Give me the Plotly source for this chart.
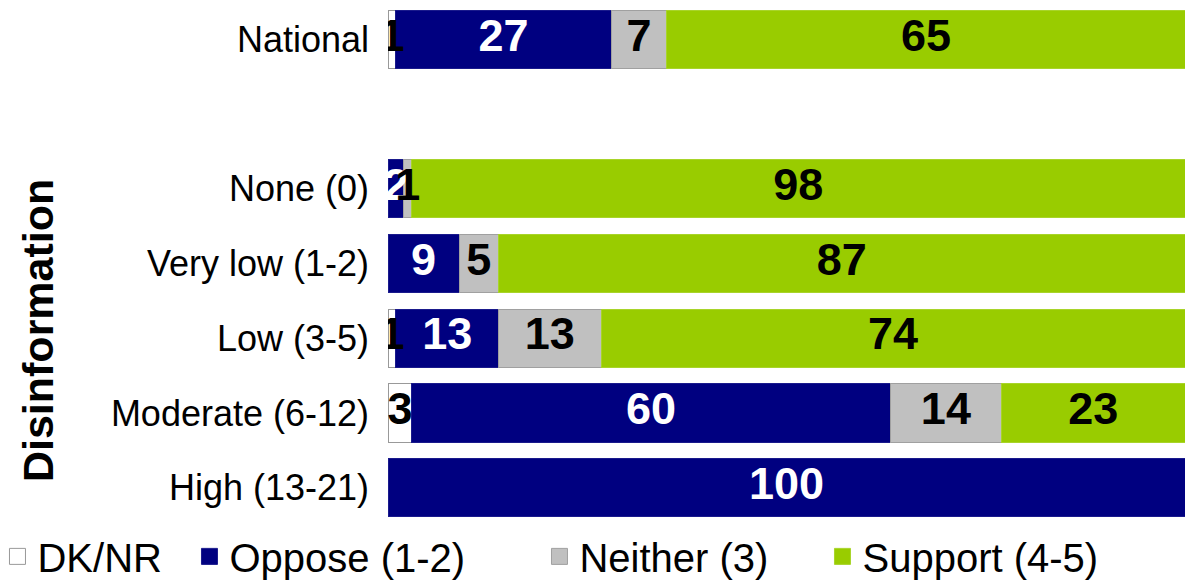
import plotly.graph_objects as go

categories = ["National", " ", "None (0)", "Very low (1-2)", "Low (3-5)",
              "Moderate (6-12)", "High (13-21)"]
dk_nr = [1, None, 0, 0, 1, 3, 0]
oppose = [27, None, 2, 9, 13, 60, 100]
neither = [7, None, 1, 5, 13, 14, 0]
support = [65, None, 98, 87, 74, 23, 0]

series = [
    ("DK/NR", dk_nr, "#FFFFFF", "#999999", "black", 147),
    ("Oppose (1-2)", oppose, "#000080", "#1a1a8c", "white", 305),
    ("Neither (3)", neither, "#C0C0C0", "#A0A0A0", "black", 238),
    ("Support (4-5)", support, "#99CC00", "#A8D42A", "black", 290),
]

FONT = "Liberation Sans, Arial, sans-serif"
fig = go.Figure()

for name, vals, color, line, tcol, lw in series:
    fig.add_trace(go.Bar(
        y=categories, x=vals, name=name, orientation="h",
        marker=dict(color=color, line=dict(color=line, width=1)),
        showlegend=False, hoverinfo="skip",
    ))

# legend entries (square swatches)
for name, vals, color, line, tcol, lw in series:
    fig.add_trace(go.Scatter(
        x=[None], y=[None], mode="markers", name=name,
        marker=dict(symbol="square", size=20, color=color,
                    line=dict(color=line, width=1)),
        legendwidth=lw, hoverinfo="skip",
    ))

# labels drawn on top, centred in each (normalised) segment
totals = []
for i in range(len(categories)):
    parts = [s[1][i] for s in series]
    totals.append(sum(p for p in parts if p) if any(parts) else None)

start = [0.0] * len(categories)
for name, vals, color, line, tcol, lw in series:
    xs, ys, ts = [], [], []
    for i, v in enumerate(vals):
        if v is None or totals[i] is None:
            continue
        w = v / totals[i] * 100
        if v:
            xs.append(start[i] + w / 2)
            ys.append(categories[i])
            ts.append(str(v))
        start[i] += w
    fig.add_trace(go.Scatter(
        x=xs, y=ys, text=ts, mode="text", textposition="middle center",
        textfont=dict(family=FONT, size=45, color=tcol, weight="bold"),
        showlegend=False, hoverinfo="skip",
    ))

fig.update_layout(
    width=1185, height=583,
    barmode="stack", barnorm="percent", bargap=0.22,
    plot_bgcolor="white", paper_bgcolor="white",
    margin=dict(l=388, r=0, t=2, b=58, autoexpand=False),
    font=dict(family=FONT, color="black"),
    xaxis=dict(visible=False, range=[0, 100], fixedrange=True),
    yaxis=dict(categoryorder="array", categoryarray=categories,
               autorange="reversed", showgrid=False, zeroline=False,
               showline=False, ticks="", ticklabelstandoff=18,
               fixedrange=True,
               tickfont=dict(family=FONT, size=36, color="black")),
    legend=dict(orientation="h", x=-0.490, xanchor="left",
                y=-0.060, yanchor="middle", itemsizing="trace",
                font=dict(family=FONT, size=40, color="black"),
                bgcolor="rgba(0,0,0,0)", traceorder="normal"),
    annotations=[dict(text="<b>Disinformation</b>", textangle=-90,
                      xref="paper", yref="paper", x=-0.439, y=0.371,
                      xanchor="center", yanchor="middle", showarrow=False,
                      font=dict(family=FONT, size=43, color="black"))],
)

fig.write_html(
    "out.html",
    config={"displayModeBar": False},
    post_script="document.body.style.margin='0px';"
                "document.body.style.overflow='hidden';",
)
